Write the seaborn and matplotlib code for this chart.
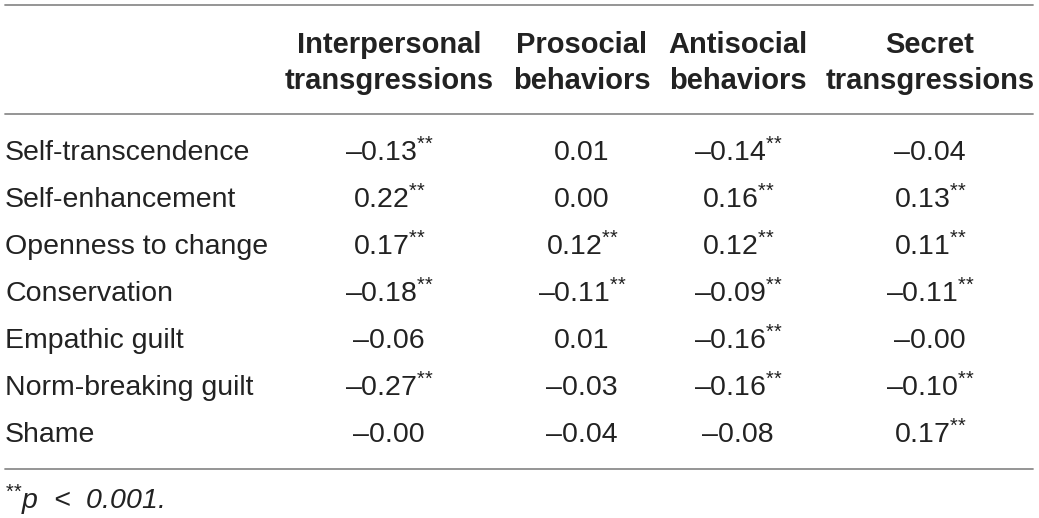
import numpy as np
import pandas as pd
import matplotlib.pyplot as plt
import matplotlib.transforms as mtransforms
from matplotlib.colors import ListedColormap
import seaborn as sns

# table content
columns = ["Interpersonal\ntransgressions", "Prosocial\nbehaviors",
           "Antisocial\nbehaviors", "Secret\ntransgressions"]
rows = ["Self-transcendence", "Self-enhancement", "Openness to change",
        "Conservation", "Empathic guilt", "Norm-breaking guilt", "Shame"]

interpersonal = [-0.13, 0.22, 0.17, -0.18, -0.06, -0.27, -0.00]
prosocial = [0.01, 0.00, 0.12, -0.11, 0.01, -0.03, -0.04]
antisocial = [-0.14, 0.16, 0.12, -0.09, -0.16, -0.16, -0.08]
secret = [-0.04, 0.13, 0.11, -0.11, -0.00, -0.10, 0.17]

sig_interpersonal = [1, 1, 1, 1, 0, 1, 0]
sig_prosocial = [0, 0, 1, 1, 0, 0, 0]
sig_antisocial = [1, 1, 1, 1, 1, 1, 0]
sig_secret = [0, 1, 1, 1, 0, 1, 1]

footnote = r"$^{\text{**}}$p  <  0.001."

sns.set_theme(style="white")
plt.rcParams["font.family"] = ["Liberation Sans", "DejaVu Sans"]
plt.rcParams["mathtext.fontset"] = "custom"
plt.rcParams["mathtext.rm"] = "Liberation Sans"
plt.rcParams["mathtext.it"] = "Liberation Sans:italic"
plt.rcParams["mathtext.bf"] = "Liberation Sans:bold"

W, H = 1039, 518
FS = 20.5
TXT = "#222222"
RULE = "#8c8c8c"

values = pd.DataFrame(
    np.column_stack([interpersonal, prosocial, antisocial, secret]),
    index=rows, columns=columns)
sig = np.column_stack([sig_interpersonal, sig_prosocial, sig_antisocial, sig_secret])


def fmt(v, s):
    body = ("\u2013" if np.signbit(v) else "") + f"{abs(v):.2f}"
    if s:
        return r"$\text{" + body + r"}^{\text{**}}$"
    return body


labels = np.array([[fmt(values.iat[i, j], sig[i, j]) for j in range(4)]
                   for i in range(len(rows))])

# layout in pixels
col_centers_px = [389, 582, 738, 930]
x0_px, cell_px = 299, 180.25
y_top_px, y_bot_px = 129.5, 458.5

fig = plt.figure(figsize=(W / 100, H / 100), dpi=100)
ax = fig.add_axes([x0_px / W, 1 - y_bot_px / H, 4 * cell_px / W,
                   (y_bot_px - y_top_px) / H])
sns.heatmap(values, ax=ax, cmap=ListedColormap(["white"]), cbar=False,
            annot=labels, fmt="", annot_kws={"fontsize": FS, "color": TXT},
            xticklabels=False, yticklabels=True)

# shift the value columns to the real column centers
centers = [(c - x0_px) / cell_px for c in col_centers_px]
for t in ax.texts:
    x, y = t.get_position()
    t.set_position((centers[int(x)], y))

ax.tick_params(axis="y", length=0, pad=(x0_px - 5) * 0.72, labelsize=FS,
               labelcolor=TXT)
plt.setp(ax.get_yticklabels(), ha="left", rotation=0)
for s in ax.spines.values():
    s.set_visible(False)

# column headers
trans = mtransforms.blended_transform_factory(ax.transData, fig.transFigure)
for c, name in zip(centers, columns):
    ax.text(c, 1 - 63 / H, name, transform=trans, ha="center", va="center",
            fontsize=FS + 0.5, fontweight="bold", color=TXT, linespacing=1.38)

# rules
for y in [5, 114, 469]:
    fig.add_artist(plt.Line2D([5 / W, 1033 / W], [1 - y / H, 1 - y / H],
                              color=RULE, lw=1.3, transform=fig.transFigure))

fig.text(5 / W, 1 - 500 / H, footnote, ha="left", va="center",
         fontsize=FS, color=TXT, style="italic")

fig.savefig("out.png", dpi=100)
